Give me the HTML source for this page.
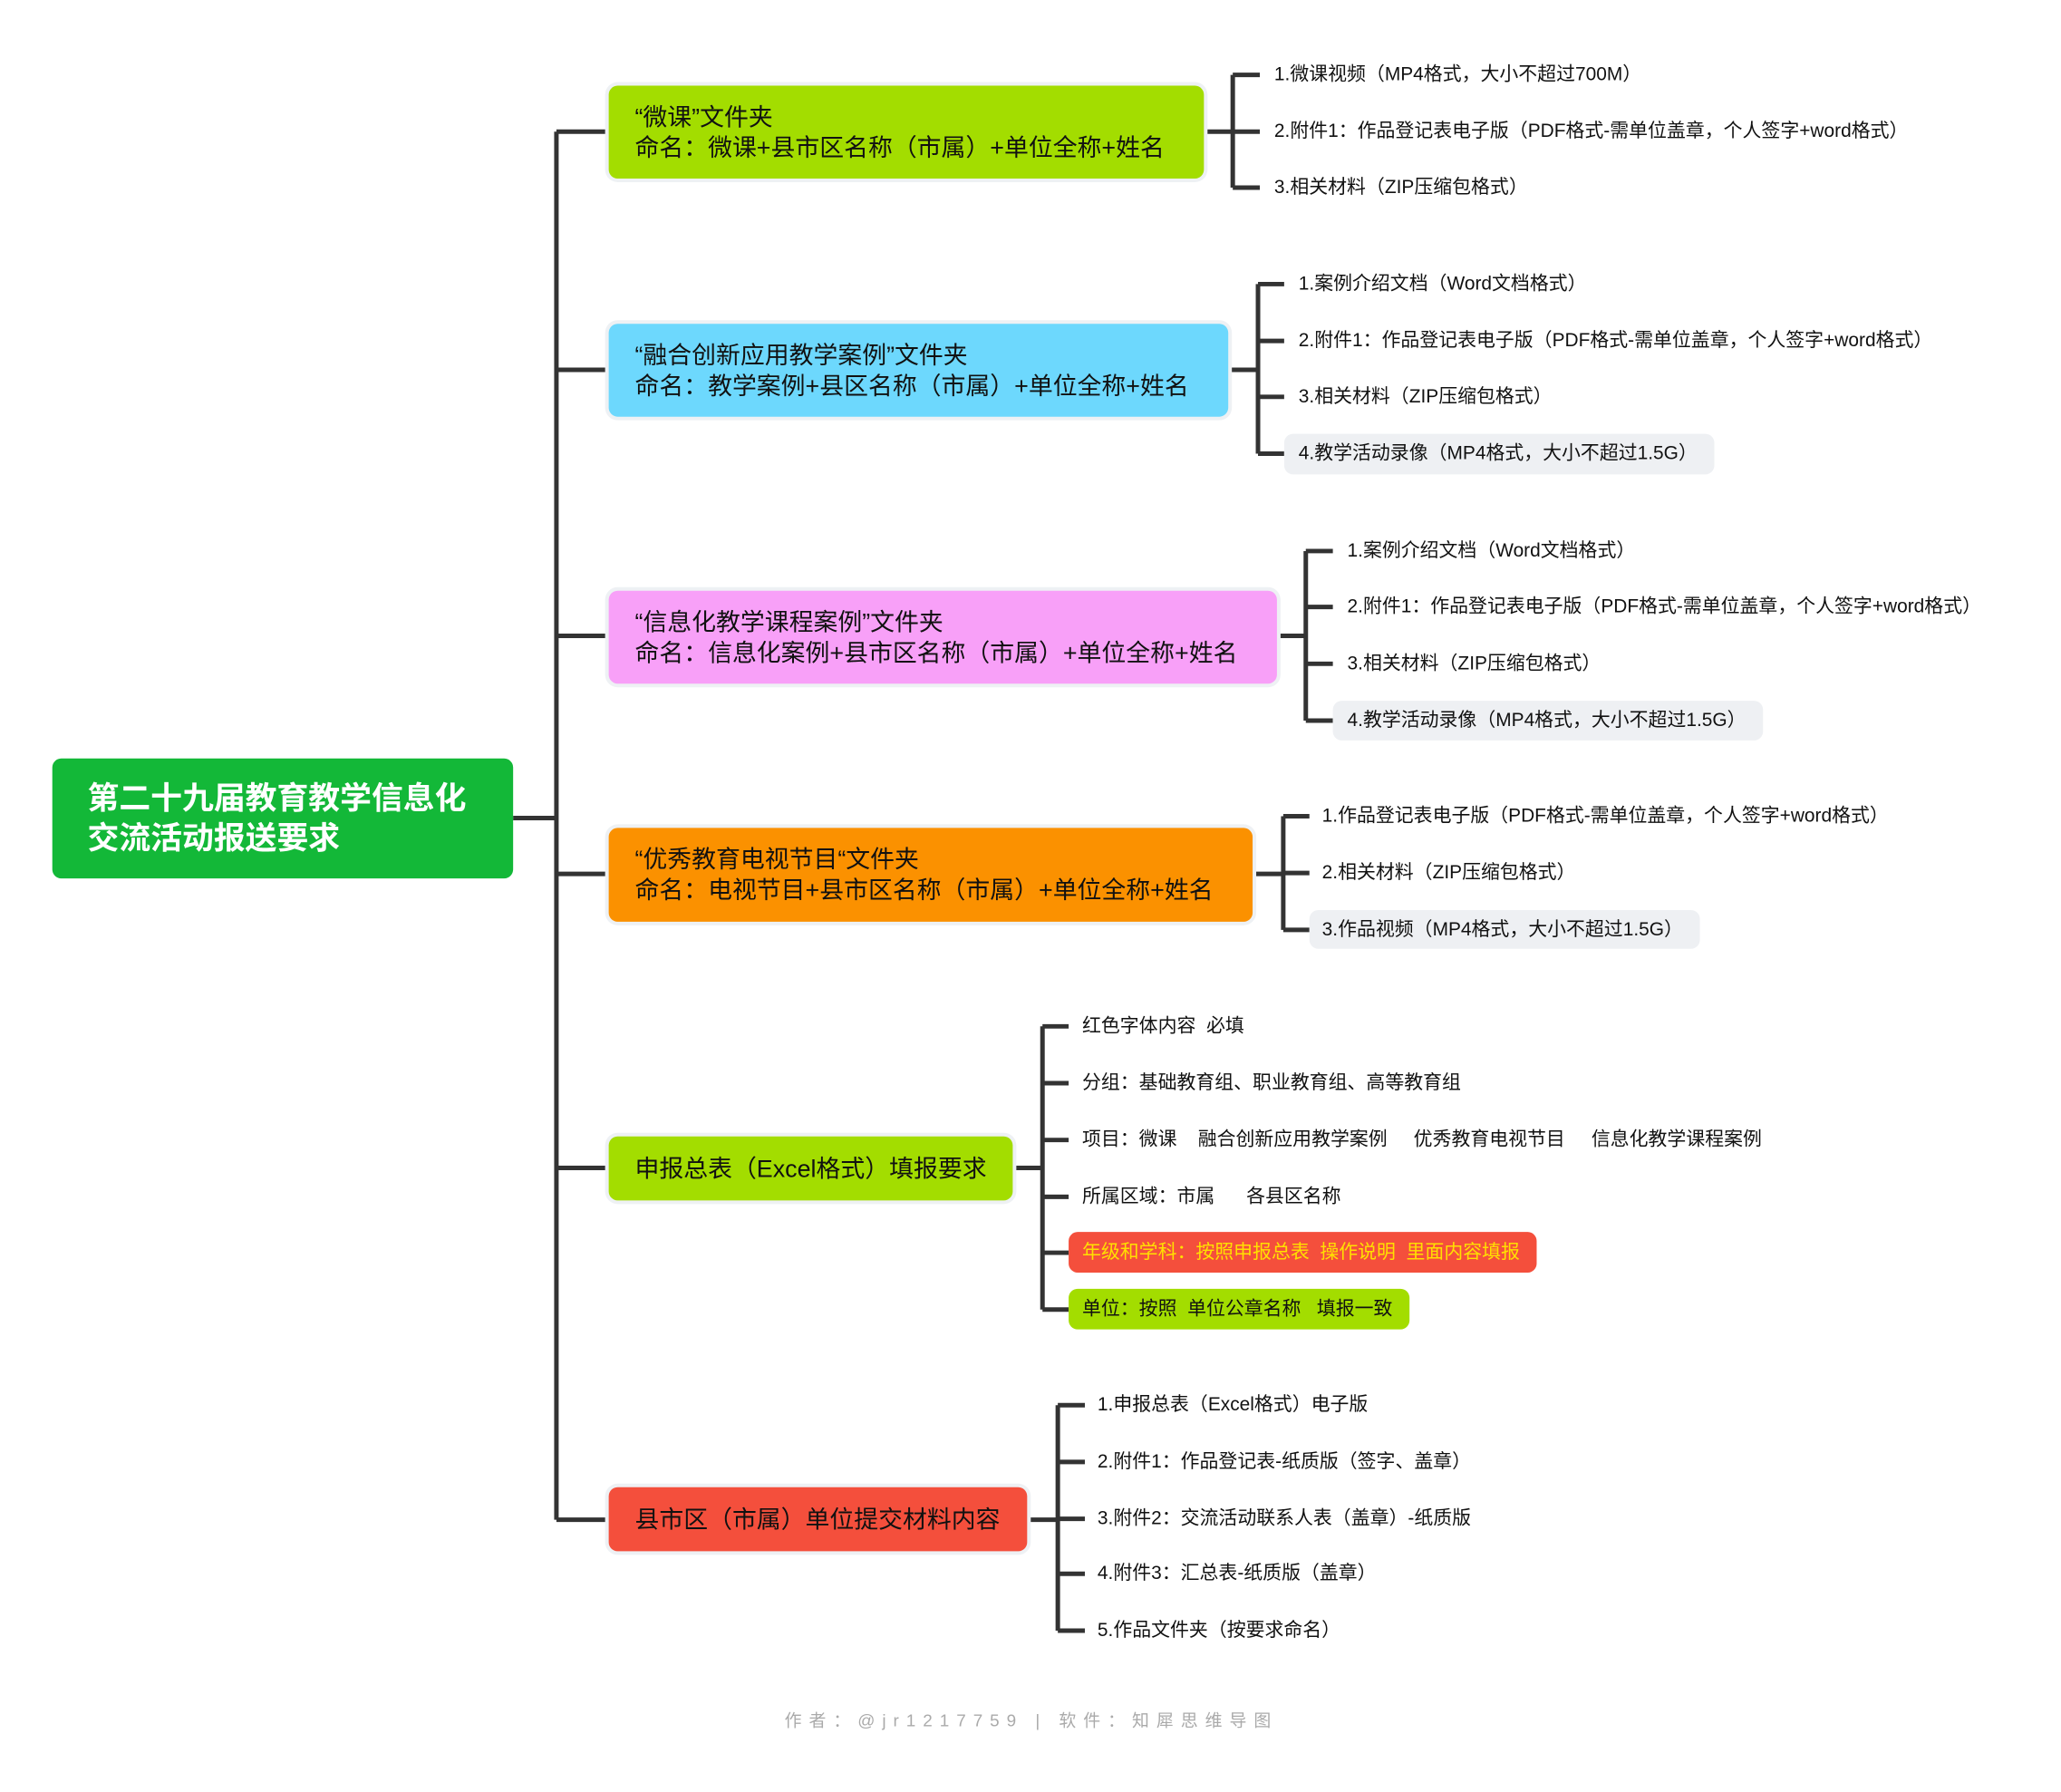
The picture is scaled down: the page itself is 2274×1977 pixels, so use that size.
<!DOCTYPE html>
<html><head><meta charset="utf-8"><style>
body{margin:0;width:2274px;height:1977px;background:#fff;position:relative;overflow:hidden;font-family:"Liberation Sans","Noto Sans CJK SC",sans-serif;}
#w{position:absolute;left:0;top:0;width:2274px;height:1977px;transform:scale(0.995);transform-origin:0 0;}
.b{position:absolute;border-radius:10px;box-shadow:0 0 0 4px #eef1f4;color:#111;font-size:27px;line-height:34px;box-sizing:border-box;padding-left:29px;display:flex;flex-direction:column;justify-content:center;}
.t{position:absolute;font-size:21px;line-height:30px;height:30px;white-space:pre;color:#111;}
.p{position:absolute;border-radius:10px;}
svg{position:absolute;left:0;top:0;}
</style></head><body><div id="w">
<svg width="2274" height="1977" fill="none" stroke="#333" stroke-width="5">
<path d="M569 907H617M617 146V1685M617 146H675M617 410H675M617 705H675M617 969H675M617 1295H675M617 1685H675"/>
<path d="M1335 146H1367M1367 83V208M1367 83H1397M1367 146H1397M1367 208H1397"/>
<path d="M1362 410H1395M1395 315V503M1395 315H1424M1395 378H1424M1395 440H1424M1395 503H1424"/>
<path d="M1416 705H1448M1448 611V799M1448 611H1478M1448 673H1478M1448 736H1478M1448 799H1478"/>
<path d="M1389 969H1423M1423 905V1031M1423 905H1452M1423 968H1452M1423 1031H1452"/>
<path d="M1123 1295H1156M1156 1138V1452M1156 1138H1185M1156 1201H1185M1156 1264H1185M1156 1327H1185M1156 1389H1185M1156 1452H1185"/>
<path d="M1139 1685H1173M1173 1558V1808M1173 1558H1203M1173 1621H1203M1173 1684H1203M1173 1745H1203M1173 1808H1203"/>
</svg>
<div class="b" style="left:58px;top:841px;width:511px;height:133px;background:#13b838;color:#fff;font-weight:bold;font-size:35px;line-height:44px;padding-left:39px;box-shadow:none">第二十九届教育教学信息化<br>交流活动报送要求</div>
<div class="b" style="left:675px;top:95px;width:660px;height:103px;background:#a3dd00">“微课”文件夹<br>命名：微课+县市区名称（市属）+单位全称+姓名</div>
<div class="b" style="left:675px;top:359px;width:687px;height:103px;background:#6dd8fd">“融合创新应用教学案例”文件夹<br>命名：教学案例+县区名称（市属）+单位全称+姓名</div>
<div class="b" style="left:675px;top:655px;width:741px;height:103px;background:#f8a0f8">“信息化教学课程案例”文件夹<br>命名：信息化案例+县市区名称（市属）+单位全称+姓名</div>
<div class="b" style="left:675px;top:918px;width:714px;height:104px;background:#fb9100">“优秀教育电视节目“文件夹<br>命名：电视节目+县市区名称（市属）+单位全称+姓名</div>
<div class="b" style="left:675px;top:1260px;width:448px;height:71px;background:#a3dd00">申报总表（Excel格式）填报要求</div>
<div class="b" style="left:675px;top:1649px;width:464px;height:71px;background:#f44f3c">县市区（市属）单位提交材料内容</div>

<div class="p" style="left:1424px;top:481px;width:477px;height:45px;background:#eef0f3"></div>
<div class="p" style="left:1478px;top:777px;width:477px;height:44px;background:#eef0f3"></div>
<div class="p" style="left:1452px;top:1009px;width:433px;height:43px;background:#eef0f3"></div>
<div class="p" style="left:1185px;top:1366px;width:519px;height:45px;background:#f44f3c"></div>
<div class="p" style="left:1185px;top:1429px;width:378px;height:45px;background:#a3dd00"></div>

<div class="t" style="left:1413px;top:68px">1.微课视频（MP4格式，大小不超过700M）</div>
<div class="t" style="left:1413px;top:131px">2.附件1：作品登记表电子版（PDF格式-需单位盖章，个人签字+word格式）</div>
<div class="t" style="left:1413px;top:193px">3.相关材料（ZIP压缩包格式）</div>

<div class="t" style="left:1440px;top:300px">1.案例介绍文档（Word文档格式）</div>
<div class="t" style="left:1440px;top:363px">2.附件1：作品登记表电子版（PDF格式-需单位盖章，个人签字+word格式）</div>
<div class="t" style="left:1440px;top:425px">3.相关材料（ZIP压缩包格式）</div>
<div class="t" style="left:1440px;top:488px">4.教学活动录像（MP4格式，大小不超过1.5G）</div>

<div class="t" style="left:1494px;top:596px">1.案例介绍文档（Word文档格式）</div>
<div class="t" style="left:1494px;top:658px">2.附件1：作品登记表电子版（PDF格式-需单位盖章，个人签字+word格式）</div>
<div class="t" style="left:1494px;top:721px">3.相关材料（ZIP压缩包格式）</div>
<div class="t" style="left:1494px;top:784px">4.教学活动录像（MP4格式，大小不超过1.5G）</div>

<div class="t" style="left:1466px;top:890px">1.作品登记表电子版（PDF格式-需单位盖章，个人签字+word格式）</div>
<div class="t" style="left:1466px;top:953px">2.相关材料（ZIP压缩包格式）</div>
<div class="t" style="left:1466px;top:1016px">3.作品视频（MP4格式，大小不超过1.5G）</div>

<div class="t" style="left:1200px;top:1123px">红色字体内容  必填</div>
<div class="t" style="left:1200px;top:1186px">分组：基础教育组、职业教育组、高等教育组</div>
<div class="t" style="left:1200px;top:1249px">项目：微课    融合创新应用教学案例     优秀教育电视节目     信息化教学课程案例</div>
<div class="t" style="left:1200px;top:1312px">所属区域：市属      各县区名称</div>
<div class="t" style="left:1200px;top:1374px;color:#ffe000">年级和学科：按照申报总表  操作说明  里面内容填报</div>
<div class="t" style="left:1200px;top:1437px">单位：按照  单位公章名称   填报一致</div>

<div class="t" style="left:1217px;top:1543px">1.申报总表（Excel格式）电子版</div>
<div class="t" style="left:1217px;top:1606px">2.附件1：作品登记表-纸质版（签字、盖章）</div>
<div class="t" style="left:1217px;top:1669px">3.附件2：交流活动联系人表（盖章）-纸质版</div>
<div class="t" style="left:1217px;top:1730px">4.附件3：汇总表-纸质版（盖章）</div>
<div class="t" style="left:1217px;top:1793px">5.作品文件夹（按要求命名）</div>

<div class="t" style="left:870px;top:1894px;font-size:19px;color:#aaa;letter-spacing:8px">作者：@jr1217759 | 软件：知犀思维导图</div>
</div></body></html>
